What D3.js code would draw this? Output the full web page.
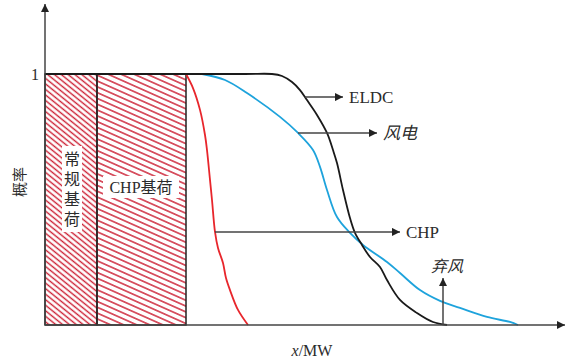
<!DOCTYPE html>
<html>
<head>
<meta charset="utf-8">
<script src="https://cdn.jsdelivr.net/npm/d3@7"></script>
<style>
    html, body { margin: 0; padding: 0; background: #fff; }
    svg { display: block; }
    .serif { font-family: "Liberation Serif", "DejaVu Serif", "Noto Sans CJK SC", serif; fill: #2b2b2b; }
</style>
</head>
<body>
<div id="chart"></div>
<script>
(function windCurtailmentChart() {
    'use strict';

    /* data (x in MW units, y = probability) */

    var eldcX = [0, 40, 45.4, 47.4, 49.4, 51, 52.4, 54.4, 56.4, 57.6, 58.4, 59.6, 61, 62, 63.4, 65, 67, 68.4, 71, 74.4, 77.6, 80.4];
    var eldcY = [1, 1, 1, 0.992, 0.968, 0.936, 0.896, 0.837, 0.765, 0.697, 0.645, 0.538, 0.426, 0.367, 0.319, 0.271, 0.231, 0.179, 0.1, 0.048, 0.012, 0];

    var windX = [31.4, 36, 40.4, 47, 50.6, 53.6, 55, 56.4, 58.4, 61, 63.6, 68.4, 71, 75, 79, 83, 88.4, 93, 94.6];
    var windY = [1, 0.976, 0.924, 0.829, 0.765, 0.697, 0.63, 0.538, 0.43, 0.367, 0.319, 0.251, 0.207, 0.139, 0.096, 0.068, 0.032, 0.012, 0];

    var chpX = [28.2, 29.6, 31, 32, 32.4, 33, 33.4, 34, 34.6, 35.6, 36.2, 37, 38.6, 40.6];
    var chpY = [1, 0.944, 0.857, 0.757, 0.697, 0.578, 0.498, 0.371, 0.307, 0.247, 0.187, 0.139, 0.06, 0];

    var baseLoads = [
        { name: '常规基荷', x0: 0, x1: 10.4 },
        { name: 'CHP基荷', x0: 10.4, x1: 28.2 }
    ];

    var yTicks = [1];

    var pointers = [
        { label: 'ELDC', y: 0.908, x0: 52, x1: 59.6 },
        { label: '风电', y: 0.765, x0: 50.6, x1: 66.4 },
        { label: 'CHP', y: 0.371, x0: 34, x1: 71 }
    ];

    var curtail = { label: '弃风', x: 79.6, y0: 0, y1: 0.187 };

    /* layout */

    var width = 566, height = 363;
    var x = d3.scaleLinear().domain([0, 100]).range([45, 545]);
    var y = d3.scaleLinear().domain([0, 1]).range([325, 74]);

    var svg = d3.select('#chart').append('svg')
        .attr('width', width)
        .attr('height', height)
    ;

    var defs = svg.append('defs');

    // arrow head
    defs.append('marker')
        .attr('id', 'arrow')
        .attr('viewBox', '0 0 10 10')
        .attr('refX', 10).attr('refY', 5)
        .attr('markerWidth', 11).attr('markerHeight', 8)
        .attr('markerUnits', 'userSpaceOnUse')
        .attr('orient', 'auto')
        .append('path')
        .attr('d', 'M0,0 L10,5 L0,10 z')
        .attr('fill', '#222')
    ;

    // hatching
    function hatch(id, gap, angle) {
        var p = defs.append('pattern')
            .attr('id', id)
            .attr('patternUnits', 'userSpaceOnUse')
            .attr('width', 20).attr('height', gap)
            .attr('patternTransform', 'rotate(' + angle + ')')
        ;
        p.append('line')
            .attr('x1', 0).attr('x2', 20)
            .attr('y1', gap / 2).attr('y2', gap / 2)
            .attr('stroke', '#cc1f33')
            .attr('stroke-width', 1.4)
        ;
    }
    hatch('hatchA', 4.3, 39);
    hatch('hatchB', 5.3, 24);

    /* base load blocks */

    svg.selectAll('rect.base')
        .data(baseLoads)
        .enter()
        .append('rect')
        .attr('class', 'base')
        .attr('x', function (d) { return x(d.x0); })
        .attr('y', y(1))
        .attr('width', function (d) { return x(d.x1) - x(d.x0); })
        .attr('height', y(0) - y(1))
        .attr('fill', function (d, i) { return i === 0 ? 'url(#hatchA)' : 'url(#hatchB)'; })
        .attr('stroke', '#222')
        .attr('stroke-width', 1.5)
    ;

    // labels on white boxes
    var vert = svg.append('g');
    vert.append('rect')
        .attr('x', 62).attr('y', 146).attr('width', 20).attr('height', 86)
        .attr('fill', '#fff');
    vert.selectAll('text')
        .data(baseLoads[0].name.split(''))
        .enter()
        .append('text')
        .attr('class', 'serif')
        .attr('x', 72)
        .attr('y', function (d, i) { return 165 + i * 20; })
        .attr('text-anchor', 'middle')
        .attr('font-size', 16)
        .text(function (d) { return d; })
    ;

    svg.append('rect')
        .attr('x', 103).attr('y', 176).attr('width', 76).attr('height', 22)
        .attr('fill', '#fff');
    svg.append('text')
        .attr('class', 'serif')
        .attr('x', 141).attr('y', 193)
        .attr('text-anchor', 'middle')
        .attr('font-size', 16)
        .text(baseLoads[1].name)
    ;

    /* curves */

    var line = d3.line()
        .x(function (d) { return x(d[0]); })
        .y(function (d) { return y(d[1]); })
        .curve(d3.curveCatmullRom.alpha(0.5))
    ;

    function series(xs, ys) {
        return xs.map(function (v, i) { return [v, ys[i]]; });
    }

    svg.append('path')
        .datum(series(chpX, chpY))
        .attr('d', line)
        .attr('fill', 'none')
        .attr('stroke', '#e8262c')
        .attr('stroke-width', 1.8)
    ;

    svg.append('path')
        .datum(series(windX, windY))
        .attr('d', line)
        .attr('fill', 'none')
        .attr('stroke', '#1ea3dc')
        .attr('stroke-width', 1.8)
    ;

    svg.append('path')
        .datum(series(eldcX, eldcY))
        .attr('d', line)
        .attr('fill', 'none')
        .attr('stroke', '#1a1a1a')
        .attr('stroke-width', 1.8)
    ;

    /* axes */

    svg.append('line')
        .attr('x1', x(0)).attr('y1', y(0))
        .attr('x2', 565).attr('y2', y(0))
        .attr('stroke', '#444').attr('stroke-width', 1.5)
        .attr('marker-end', 'url(#arrow)')
    ;
    svg.append('line')
        .attr('x1', x(0)).attr('y1', y(0))
        .attr('x2', x(0)).attr('y2', 4)
        .attr('stroke', '#444').attr('stroke-width', 1.5)
        .attr('marker-end', 'url(#arrow)')
    ;

    var yAxis = svg.append('g')
        .attr('transform', 'translate(' + x(0) + ',0)')
        .call(d3.axisLeft(y).tickValues(yTicks).tickFormat(d3.format('d')).tickSize(0).tickPadding(6))
    ;
    yAxis.select('.domain').remove();
    yAxis.selectAll('text')
        .attr('class', 'serif')
        .attr('font-size', 16)
        .attr('dy', '0.35em')
    ;

    svg.append('text')
        .attr('class', 'serif')
        .attr('transform', 'translate(25,' + 182 + ') rotate(-90)')
        .attr('text-anchor', 'middle')
        .attr('font-size', 15)
        .text('概率')
    ;

    var xLabel = svg.append('text')
        .attr('class', 'serif')
        .attr('x', 312).attr('y', 356)
        .attr('text-anchor', 'middle')
        .attr('font-size', 16)
    ;
    xLabel.append('tspan').attr('font-style', 'italic').text('x');
    xLabel.append('tspan').text('/MW');

    /* pointers */

    var ptr = svg.selectAll('g.ptr')
        .data(pointers)
        .enter()
        .append('g')
        .attr('class', 'ptr')
    ;
    ptr.append('line')
        .attr('x1', function (d) { return x(d.x0); })
        .attr('x2', function (d) { return x(d.x1); })
        .attr('y1', function (d) { return y(d.y); })
        .attr('y2', function (d) { return y(d.y); })
        .attr('stroke', '#444').attr('stroke-width', 1.5)
        .attr('marker-end', 'url(#arrow)')
    ;
    ptr.append('text')
        .attr('class', 'serif')
        .attr('x', function (d) { return x(d.x1) + 6; })
        .attr('y', function (d) { return y(d.y) + 6; })
        .attr('font-size', 17)
        .attr('font-style', function (d) { return d.label === '风电' ? 'italic' : null; })
        .text(function (d) { return d.label; })
    ;

    svg.append('line')
        .attr('x1', x(curtail.x)).attr('x2', x(curtail.x))
        .attr('y1', y(curtail.y0)).attr('y2', y(curtail.y1))
        .attr('stroke', '#444').attr('stroke-width', 1.5)
        .attr('marker-end', 'url(#arrow)')
    ;
    svg.append('text')
        .attr('class', 'serif')
        .attr('x', x(curtail.x) + 4).attr('y', y(curtail.y1) - 6)
        .attr('text-anchor', 'middle')
        .attr('font-size', 16)
        .attr('font-style', 'italic')
        .text(curtail.label)
    ;
})();
</script>
</body>
</html>
